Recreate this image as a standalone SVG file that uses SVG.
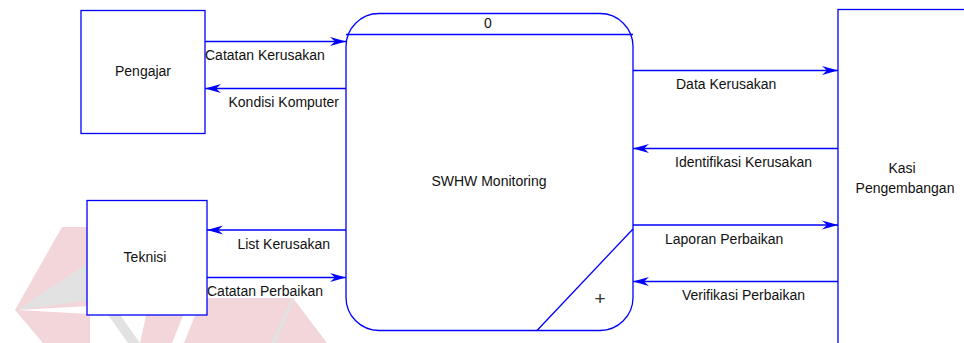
<svg xmlns="http://www.w3.org/2000/svg" width="964" height="343" viewBox="0 0 964 343">
  <style>
    .box { fill: #ffffff; stroke: #0000ff; stroke-width: 1.3; }
    .ln { fill: none; stroke: #0000ff; stroke-width: 1.3; }
    .flow { fill: none; stroke: #0000ff; stroke-width: 1.3; marker-end: url(#ah); }
    .t { font-family: "Liberation Sans", Arial, sans-serif; font-size: 14px; fill: #111111; }
    .m { text-anchor: middle; }
    .e { text-anchor: end; }
    .wp { fill: #f2d6d9; }
    .wg { fill: #e2e2e2; }
    .ww { fill: #ffffff; }
  </style>
  <defs>
    <marker id="ah" viewBox="-17 -5 18 10" refX="0" refY="0" markerWidth="18" markerHeight="10" markerUnits="userSpaceOnUse" orient="auto">
      <path d="M0,0 L-16,-4.5 L-11,0 L-16,4.5 Z" fill="#0000ff"/>
    </marker>
  </defs>

  <g id="watermark">
    <polygon class="wp" points="15,310 62,227 90,227 90,343 43,343"/>
    <polygon class="wg" points="17,310 90,262 90,300"/>
    <polygon class="ww" points="17,310 90,306 90,314"/>
    <polygon class="wp" points="150,298 293,298 327,343 140,343"/>
    <polygon class="ww" points="190,298 202,298 184,343 172,343"/>
    <polygon class="wg" points="106,312 118,312 140,343 128,343"/>
    <polygon class="wg" points="292,298 295,298 276,343 271,343"/>
  </g>

  <g id="pengajar">
    <rect class="box" x="81" y="10.5" width="124" height="123"/>
    <text class="t m" x="143" y="76">Pengajar</text>
  </g>

  <g id="teknisi">
    <rect class="box" x="87" y="200.5" width="120" height="114.5"/>
    <text class="t m" x="145" y="262">Teknisi</text>
  </g>

  <g id="process">
    <rect class="box" x="346" y="13.5" width="287" height="317" rx="33" ry="33"/>
    <line class="ln" x1="346" y1="34.5" x2="633" y2="34.5"/>
    <line class="ln" x1="633" y1="229" x2="537" y2="330.5"/>
    <text class="t m" x="488" y="28">0</text>
    <text class="t m" x="489" y="186">SWHW Monitoring</text>
    <text class="t m" x="600" y="305" style="font-size:19px;fill:#333333;font-weight:300">+</text>
  </g>

  <g id="kasi">
    <rect class="box" x="838" y="9.5" width="140" height="345"/>
    <text class="t m" x="902" y="173">Kasi</text>
    <text class="t m" x="905" y="192.5">Pengembangan</text>
  </g>

  <g id="connectors">
    <path class="flow" d="M205,41.5 H346"/>
    <path class="flow" d="M346,88.5 H205"/>
    <path class="flow" d="M346,230 H207"/>
    <path class="flow" d="M207,277.5 H346"/>
    <path class="flow" d="M633,70.5 H838"/>
    <path class="flow" d="M838,148.5 H633"/>
    <path class="flow" d="M633,225 H838"/>
    <path class="flow" d="M838,281.5 H633"/>
    <text class="t" x="205" y="60">Catatan Kerusakan</text>
    <text class="t e" x="339" y="107">Kondisi Komputer</text>
    <text class="t e" x="330" y="249">List Kerusakan</text>
    <text class="t" x="207" y="296">Catatan Perbaikan</text>
    <text class="t" x="676" y="89">Data Kerusakan</text>
    <text class="t" x="675" y="167">Identifikasi Kerusakan</text>
    <text class="t" x="665" y="244">Laporan Perbaikan</text>
    <text class="t" x="682" y="300">Verifikasi Perbaikan</text>
  </g>
</svg>
